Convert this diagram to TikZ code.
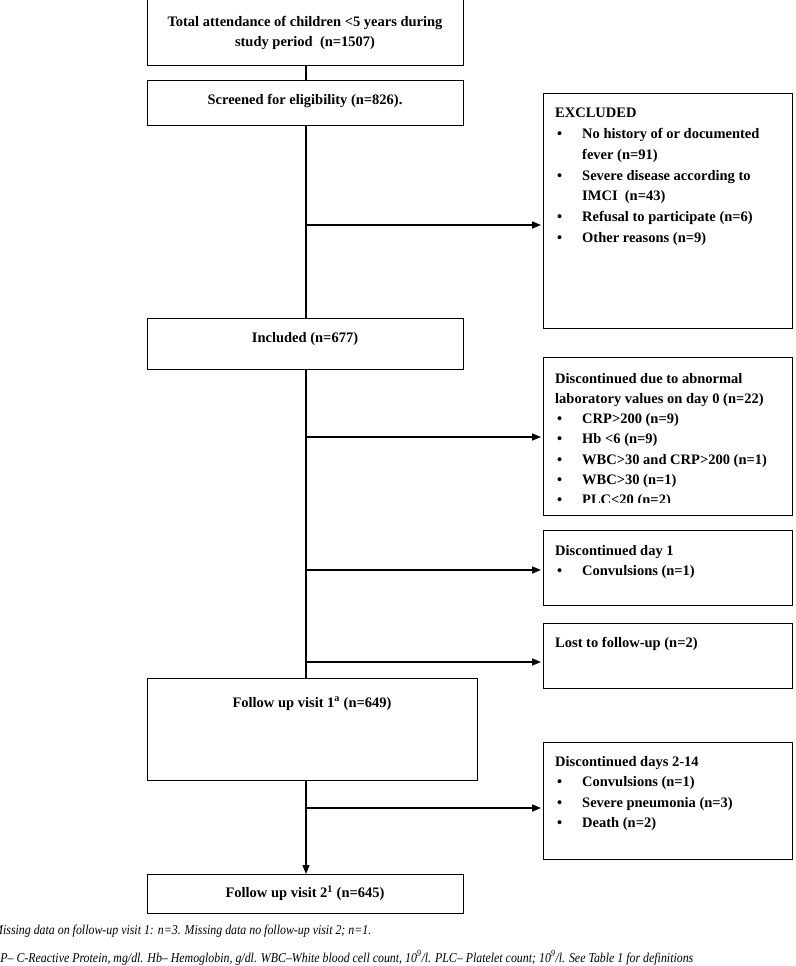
\documentclass[tikz,border=0pt]{standalone}
\usepackage{fontspec}
\setmainfont{Liberation Serif}
\usetikzlibrary{arrows.meta}

\newcommand{\bul}{\hspace*{2pt}\makebox[25pt][l]{\textbullet}}
\newcommand{\ind}{\hspace*{27pt}}

\tikzset{
  flowbox/.style={draw, line width=1.1pt, anchor=north west, inner sep=0pt},
  boxtext/.style={font=\fontsize{14.5}{20.5}\selectfont\bfseries, inner sep=0pt, align=center, anchor=base},
  listtext/.style={boxtext, align=left, anchor=base west},
  flowline/.style={line width=1.3pt},
  sidearrow/.style={line width=1.6pt, -{Triangle[length=9pt,width=7pt]}, shorten >=2pt},
  notetext/.style={font=\fontsize{13.5}{15}\selectfont\itshape, inner sep=0pt, anchor=base west}
}

\begin{document}
\begin{tikzpicture}[x=1pt, y=-1pt]
  \useasboundingbox (0,0) rectangle (795,966);

  % main column
  \node[flowbox, minimum width=316pt, minimum height=66pt] (total) at (147,-1) {};
  \node[flowbox, minimum width=316pt, minimum height=45pt] (screen) at (147,80) {};
  \node[flowbox, minimum width=316pt, minimum height=51pt] (incl) at (147,318) {};
  \node[flowbox, minimum width=330pt, minimum height=102pt] (visit1) at (147,678) {};
  \node[flowbox, minimum width=316pt, minimum height=39pt] (visit2) at (147,874) {};

  % (multi-line texts are placed by the baseline of their last line)
  \node[boxtext, font=\fontsize{14.5}{20}\selectfont\bfseries] (totaltext) at (305,46.5) {Total attendance of children <5 years during\\study period\ \ (n=1507)};
  \node[boxtext] (screentext) at (305,104.5) {Screened for eligibility (n=826).};
  \node[boxtext] (incltext) at (305,342.5) {Included (n=677)};
  \node[boxtext] (visit1text) at (312,707) {Follow up visit 1\textsuperscript{a} (n=649)};
  \node[boxtext] (visit2text) at (305,897.5) {Follow up visit 2\textsuperscript{1} (n=645)};

  % boxes on the right
  \node[flowbox, minimum width=249pt, minimum height=235pt] (excl) at (543,93) {};
  \node[flowbox, minimum width=249pt, minimum height=158pt] (lab) at (543,357) {};
  \node[flowbox, minimum width=249pt, minimum height=75pt] (day1) at (543,530) {};
  \node[flowbox, minimum width=249pt, minimum height=65pt] (lost) at (543,623) {};
  \node[flowbox, minimum width=249pt, minimum height=117pt] (late) at (543,742) {};

  \node[listtext, font=\fontsize{14.5}{20.8}\selectfont\bfseries] (excltext) at (555,242.5) {EXCLUDED\\
    \bul No history of or documented\\ \ind fever (n=91)\\
    \bul Severe disease according to\\ \ind IMCI\ \ (n=43)\\
    \bul Refusal to participate (n=6)\\
    \bul Other reasons (n=9)};
  \begin{scope}
    \clip (543,357) rectangle (792,502.5);
    \node[listtext, font=\fontsize{14.5}{20.2}\selectfont\bfseries] (labtext) at (555,504.5) {Discontinued due to abnormal\\
      laboratory values on day 0 (n=22)\\
      \bul CRP>200 (n=9)\\
      \bul Hb <6 (n=9)\\
      \bul WBC>30 and CRP>200 (n=1)\\
      \bul WBC>30 (n=1)\\
      \bul PLC<20 (n=2)};
  \end{scope}
  \node[listtext] (day1text) at (555,575.5) {Discontinued day 1\\ \bul Convulsions (n=1)};
  \node[listtext] (losttext) at (555,647.5) {Lost to follow-up (n=2)};
  \node[listtext, font=\fontsize{14.5}{20.3}\selectfont\bfseries] (latetext) at (555,827.5) {Discontinued days 2-14\\
    \bul Convulsions (n=1)\\
    \bul Severe pneumonia (n=3)\\
    \bul Death (n=2)};

  % connectors
  \coordinate (spine) at (306,0);
  \draw[flowline] (total.south -| spine) -- (screen.north -| spine);
  \draw[flowline] (screen.south -| spine) -- (incl.north -| spine);
  \draw[flowline] (incl.south -| spine) -- (visit1.north -| spine);
  \draw[flowline, -{Triangle[length=9pt,width=7pt]}] (visit1.south -| spine) -- (visit2.north -| spine);

  \coordinate (exclpt) at (306,225);
  \coordinate (labpt) at (306,437);
  \coordinate (day1pt) at (306,570);
  \coordinate (lostpt) at (306,662);
  \coordinate (latept) at (306,808);
  \draw[sidearrow] (exclpt) -- (exclpt -| excl.west);
  \draw[sidearrow] (labpt) -- (labpt -| lab.west);
  \draw[sidearrow] (day1pt) -- (day1pt -| day1.west);
  \draw[sidearrow] (lostpt) -- (lostpt -| lost.west);
  \draw[sidearrow] (latept) -- (latept -| late.west);

  % notes, cut at the left edge as in the source
  \node[notetext] (note1) at (-7,934) {\scalebox{0.88}[1]{Missing data on follow-up visit 1: n=3. Missing data no follow-up visit 2; n=1.}};
  \node[notetext] (note2) at (-15,962) {\scalebox{0.88}[1]{CRP– C-Reactive Protein, mg/dl. Hb– Hemoglobin, g/dl. WBC–White blood cell count, 10\textsuperscript{9}/l. PLC– Platelet count; 10\textsuperscript{9}/l. See Table 1 for definitions}};
\end{tikzpicture}
\end{document}
